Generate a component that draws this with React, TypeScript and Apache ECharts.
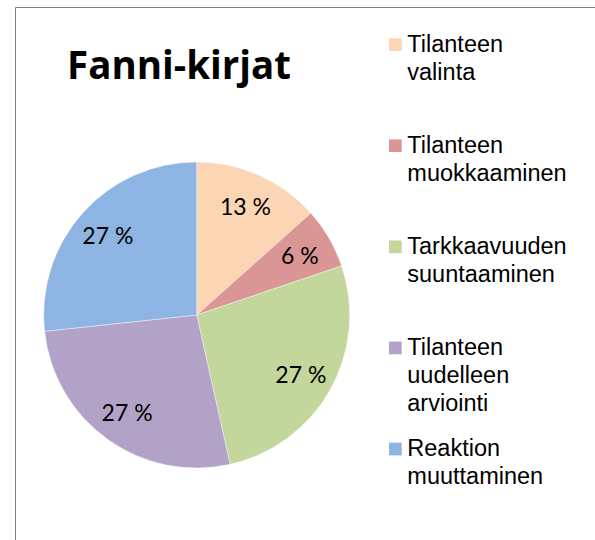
import React, { useEffect, useRef } from "react";
import * as echarts from "echarts";

const title = "Fanni-kirjat";
const categories = [
  "Tilanteen valinta",
  "Tilanteen muokkaaminen",
  "Tarkkaavuuden suuntaaminen",
  "Tilanteen uudelleen arviointi",
  "Reaktion muuttaminen",
];
const shares = [13.4, 6.4, 26.7, 26.8, 26.7];
const colors = ["#FCD5B5", "#D99694", "#C3D69B", "#B3A2C7", "#8EB4E3"];

export default function App() {
  const ref = useRef<HTMLDivElement>(null);
  useEffect(() => {
    if (!ref.current) return;
    const chart = echarts.init(ref.current, null, { renderer: "svg" });
    const data = categories.map((name, i) => ({
      name,
      value: shares[i],
      itemStyle: { color: colors[i] },
    }));
    const center = [196.7, 315];
    const legendGraphics: any[] = [];
    categories.forEach((name, i) => {
      const step = 101.1;
      legendGraphics.push({
        type: "rect",
        shape: { x: 389, y: 38.3 + i * step, width: 12.7, height: 12.7 },
        style: { fill: colors[i] },
      });
      legendGraphics.push({
        type: "text",
        x: 407.3,
        y: 29.6 + i * step,
        style: {
          text: name.split(" ").join("\n"),
          fontFamily: "Liberation Sans",
          fontSize: 23.5,
          lineHeight: 28,
          fill: "#000",
          verticalAlign: "top",
          align: "left",
        },
      });
    });
    chart.setOption({
      animation: false,
      backgroundColor: "#fff",
      title: {
        text: title,
        left: 67,
        top: 44.5,
        padding: 0,
        textStyle: {
          fontFamily: "Open Sans",
          fontWeight: "bold",
          fontSize: 38.5,
          color: "#000",
          lineHeight: 39,
        },
      },
      graphic: [
        {
          type: "polyline",
          shape: { points: [[15.5, 545], [15.5, 7.5], [600, 7.5]] },
          style: { stroke: "#808080", lineWidth: 1, fill: "none" },
        },
        ...legendGraphics,
      ],
      series: [
        {
          type: "pie",
          center,
          radius: 153,
          startAngle: 90,
          clockwise: true,
          data,
          label: { show: false },
          labelLine: { show: false },
          itemStyle: { borderColor: "#fff", borderWidth: 0.4 },
          emphasis: { disabled: true },
        },
        {
          type: "pie",
          center,
          radius: [80, 153],
          startAngle: 90,
          clockwise: true,
          silent: true,
          percentPrecision: 0,
          data: categories.map((name, i) => ({ name, value: shares[i] })),
          itemStyle: { color: "rgba(0,0,0,0)" },
          label: {
            show: true,
            position: "inside",
            formatter: "{d} %",
            fontFamily: "Lato",
            fontSize: 23,
            color: "#000",
          },
          labelLine: { show: false },
          emphasis: { disabled: true },
        },
      ],
    });
    return () => chart.dispose();
  }, []);
  return (
    <div
      ref={ref}
      style={{ position: "absolute", left: 0, top: 0, width: 595, height: 540 }}
    />
  );
}
